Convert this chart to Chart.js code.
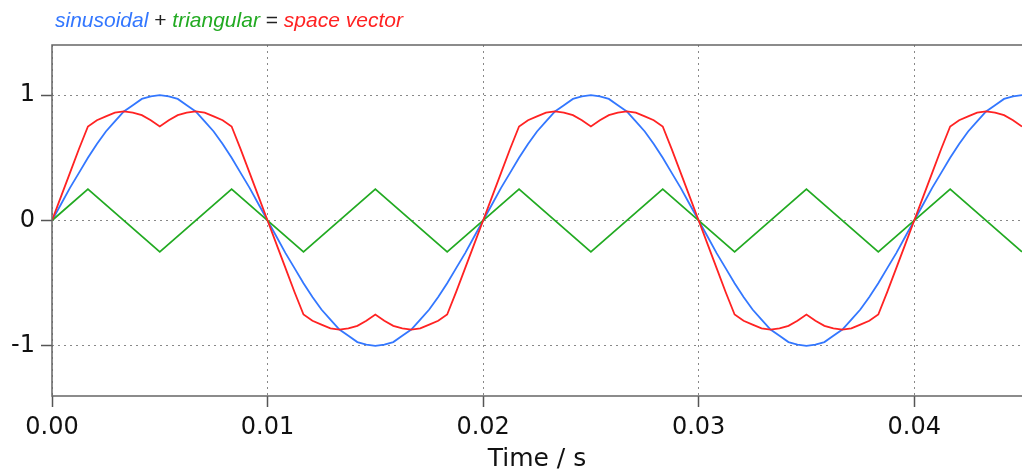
<!DOCTYPE html>
<html>
<head>
<meta charset="utf-8">
<script src="https://cdn.jsdelivr.net/npm/chart.js@4"></script>
<style>
  body { margin: 0; background: #fff; }
  #wrap { position: relative; width: 1022px; height: 474px; }
  #title { position: absolute; left: 55px; top: 8px; font: 21px "Liberation Sans", Arial, sans-serif; color: #222; white-space: pre; }
  #title i { font-style: italic; }
</style>
</head>
<body>
<div id="wrap">
  <canvas id="myChart" width="1022" height="474"></canvas>
  <div id="title"><i style="color:#3377ff">sinusoidal</i> + <i style="color:#22aa22">triangular</i> = <i style="color:#ff2222">space vector</i></div>
</div>
<script>
/*Data*/
var time = [
  0, 0.000417, 0.000833, 0.00125, 0.001667, 0.002083, 0.0025, 0.002917, 0.003333, 0.00375, 0.004167, 0.004583,
  0.005, 0.005417, 0.005833, 0.00625, 0.006667, 0.007083, 0.0075, 0.007917, 0.008333, 0.00875, 0.009167, 0.009583,
  0.01, 0.010417, 0.010833, 0.01125, 0.011667, 0.012083, 0.0125, 0.012917, 0.013333, 0.01375, 0.014167, 0.014583,
  0.015, 0.015417, 0.015833, 0.01625, 0.016667, 0.017083, 0.0175, 0.017917, 0.018333, 0.01875, 0.019167, 0.019583,
  0.02, 0.020417, 0.020833, 0.02125, 0.021667, 0.022083, 0.0225, 0.022917, 0.023333, 0.02375, 0.024167, 0.024583,
  0.025, 0.025417, 0.025833, 0.02625, 0.026667, 0.027083, 0.0275, 0.027917, 0.028333, 0.02875, 0.029167, 0.029583,
  0.03, 0.030417, 0.030833, 0.03125, 0.031667, 0.032083, 0.0325, 0.032917, 0.033333, 0.03375, 0.034167, 0.034583,
  0.035, 0.035417, 0.035833, 0.03625, 0.036667, 0.037083, 0.0375, 0.037917, 0.038333, 0.03875, 0.039167, 0.039583,
  0.04, 0.040417, 0.040833, 0.04125, 0.041667, 0.042083, 0.0425, 0.042917, 0.043333, 0.04375, 0.044167, 0.044583,
  0.045
];
var sinusoidal = [
  0, 0.13, 0.26, 0.38, 0.5, 0.61, 0.71, 0.79, 0.87, 0.92, 0.97, 0.99,
  1, 0.99, 0.97, 0.92, 0.87, 0.79, 0.71, 0.61, 0.5, 0.38, 0.26, 0.13,
  0, -0.13, -0.26, -0.38, -0.5, -0.61, -0.71, -0.79, -0.87, -0.92, -0.97, -0.99,
  -1, -0.99, -0.97, -0.92, -0.87, -0.79, -0.71, -0.61, -0.5, -0.38, -0.26, -0.13,
  0, 0.13, 0.26, 0.38, 0.5, 0.61, 0.71, 0.79, 0.87, 0.92, 0.97, 0.99,
  1, 0.99, 0.97, 0.92, 0.87, 0.79, 0.71, 0.61, 0.5, 0.38, 0.26, 0.13,
  0, -0.13, -0.26, -0.38, -0.5, -0.61, -0.71, -0.79, -0.87, -0.92, -0.97, -0.99,
  -1, -0.99, -0.97, -0.92, -0.87, -0.79, -0.71, -0.61, -0.5, -0.38, -0.26, -0.13,
  0, 0.13, 0.26, 0.38, 0.5, 0.61, 0.71, 0.79, 0.87, 0.92, 0.97, 0.99,
  1
];
var spaceVector = [
  0, 0.19, 0.38, 0.57, 0.75, 0.80, 0.83, 0.86, 0.87, 0.86, 0.84, 0.80,
  0.75, 0.80, 0.84, 0.86, 0.87, 0.86, 0.83, 0.80, 0.75, 0.57, 0.38, 0.19,
  0, -0.19, -0.38, -0.57, -0.75, -0.80, -0.83, -0.86, -0.87, -0.86, -0.84, -0.80,
  -0.75, -0.80, -0.84, -0.86, -0.87, -0.86, -0.83, -0.80, -0.75, -0.57, -0.38, -0.19,
  0, 0.19, 0.38, 0.57, 0.75, 0.80, 0.83, 0.86, 0.87, 0.86, 0.84, 0.80,
  0.75, 0.80, 0.84, 0.86, 0.87, 0.86, 0.83, 0.80, 0.75, 0.57, 0.38, 0.19,
  0, -0.19, -0.38, -0.57, -0.75, -0.80, -0.83, -0.86, -0.87, -0.86, -0.84, -0.80,
  -0.75, -0.80, -0.84, -0.86, -0.87, -0.86, -0.83, -0.80, -0.75, -0.57, -0.38, -0.19,
  0, 0.19, 0.38, 0.57, 0.75, 0.80, 0.83, 0.86, 0.87, 0.86, 0.84, 0.80,
  0.75
];
var triTime  = [0, 0.001667, 0.005, 0.008333, 0.011667, 0.015, 0.018333, 0.021667, 0.025, 0.028333, 0.031667, 0.035, 0.038333, 0.041667, 0.045];
var triangular = [0, 0.25, -0.25, 0.25, -0.25, 0.25, -0.25, 0.25, -0.25, 0.25, -0.25, 0.25, -0.25, 0.25, -0.25];
var xTicks = [0, 0.01, 0.02, 0.03, 0.04];
var yTicks = [-1, 0, 1];

function pts(xs, ys){
  var out = [];
  for (var i = 0; i < xs.length; i++){
    out.push({x: xs[i], y: ys[i]});
  }
  return out;
}

// solid frame: top, left and bottom lines
var frame = {
  id: 'frame',
  afterDraw: function(chart){
    var c = chart.ctx, a = chart.chartArea;
    c.save();
    c.strokeStyle = '#666';
    c.lineWidth = 1.5;
    c.setLineDash([]);
    c.beginPath();
    c.moveTo(a.right, a.top);
    c.lineTo(a.left, a.top);
    c.lineTo(a.left, a.bottom);
    c.lineTo(a.right, a.bottom);
    c.stroke();
    c.restore();
  }
};

var gridOpts = {
  color: '#888',
  lineWidth: 1,
  drawTicks: true,
  tickLength: 11,
  tickColor: '#555',
  tickBorderDash: [],
  tickWidth: 1.5
};

const ctx = document.getElementById('myChart');
new Chart(ctx, {
  type: 'line',
  data: {
    datasets: [{
      label: 'space vector',
      data: pts(time, spaceVector),
      borderColor: '#ff2222',
      borderWidth: 1.8,
      pointRadius: 0,
      tension: 0
    }, {
      label: 'triangular',
      data: pts(triTime, triangular),
      borderColor: '#22aa22',
      borderWidth: 1.8,
      pointRadius: 0,
      tension: 0
    }, {
      label: 'sinusoidal',
      data: pts(time, sinusoidal),
      borderColor: '#3377ff',
      borderWidth: 1.8,
      pointRadius: 0,
      tension: 0
    }]
  },
  plugins: [frame],
  options: {
    responsive: false,
    animation: false,
    layout: { padding: { top: 45, right: 0, left: 0, bottom: 0 } },
    plugins: {
      legend: { display: false },
      tooltip: { enabled: false }
    },
    scales: {
      x: {
        type: 'linear',
        min: 0,
        max: 0.045,
        afterBuildTicks: function(s){ s.ticks = xTicks.map(function(v){ return {value: v}; }); },
        afterFit: function(s){ s.height = 78; },
        border: { display: false, dash: [2, 4] },
        grid: gridOpts,
        ticks: {
          padding: 6,
          color: '#111',
          font: { family: 'DejaVu Sans', size: 24 },
          callback: function(v){ return v.toFixed(2); }
        },
        title: {
          display: true,
          text: 'Time / s',
          color: '#111',
          padding: { top: 0, bottom: 0 },
          font: { family: 'DejaVu Sans', size: 25 }
        }
      },
      y: {
        min: -1.4,
        max: 1.4,
        afterBuildTicks: function(s){ s.ticks = yTicks.map(function(v){ return {value: v}; }); },
        afterFit: function(s){ s.width = 52; },
        border: { display: false, dash: [2, 4] },
        grid: gridOpts,
        ticks: {
          padding: 6,
          color: '#111',
          font: { family: 'DejaVu Sans', size: 24 },
          callback: function(v){ return String(v); }
        }
      }
    }
  }
});
</script>
</body>
</html>
